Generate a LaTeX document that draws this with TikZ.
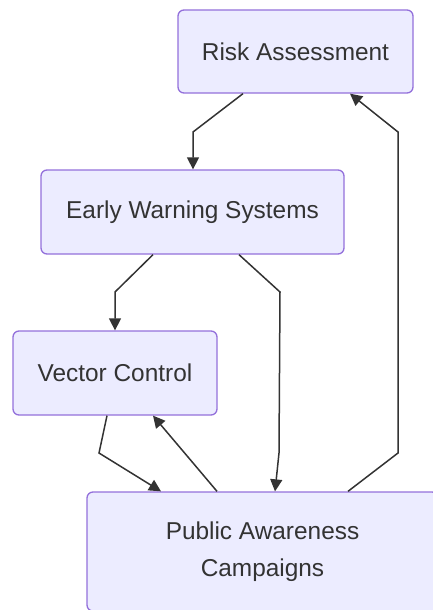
\documentclass[tikz,border=0pt]{standalone}
\usepackage{fontspec}
\setmainfont{Liberation Sans}
\usetikzlibrary{arrows.meta}
\definecolor{boxfill}{HTML}{ECECFF}
\definecolor{boxline}{HTML}{9370DB}
\definecolor{ink}{HTML}{333333}
\tikzset{
  box/.style={draw=boxline, fill=boxfill, line width=1.3pt, rounded corners=6pt,
    text=ink, font=\fontsize{24.4}{37}\selectfont, align=center, inner sep=0pt},
  arr/.style={draw=ink, line width=1.5pt, -{Triangle[length=12pt,width=12pt]}}
}
\begin{document}
\begin{tikzpicture}[x=1pt,y=-1pt]
\useasboundingbox (0,0) rectangle (432,610);
\node[box, minimum width=235pt, minimum height=83pt] (ra) at (295.5,51.5) {Risk Assessment};
\node[box, minimum width=303pt, minimum height=84pt] (ew) at (192.5,212) {Early Warning Systems};
\node[box, minimum width=204pt, minimum height=84pt] (vc) at (115,373) {Vector Control};
\node[box, minimum width=351pt, minimum height=119pt] (pa) at (262.5,551.5) {Public Awareness\\Campaigns};
\coordinate (b1) at (193,132);
\coordinate (b2) at (115,292);
\coordinate (b3) at (280,292);
\coordinate (b4) at (279,453);
\coordinate (b5) at (99,453);
\coordinate (b6) at (188,457);
\coordinate (b7) at (398,453);
\coordinate (b8) at (398,132);
\draw[arr] ([xshift=-52.5pt]ra.south) -- (b1) -- (ew.north -| b1);
\draw[arr] ([xshift=-39.5pt]ew.south) -- (b2) -- (vc.north);
\draw[arr] ([xshift=46.5pt]ew.south) -- (b3) -- (b4) -- ([xshift=12.5pt]pa.north);
\draw[arr] ([xshift=-8pt]vc.south) -- (b5) -- ([xshift=-101.5pt]pa.north);
\draw[arr] ([xshift=-45.5pt]pa.north) -- (b6) -- ([xshift=38pt]vc.south);
\draw[arr] ([xshift=85.5pt]pa.north) -- (b7) -- (b8) -- ([xshift=54.5pt]ra.south);
\end{tikzpicture}
\end{document}
